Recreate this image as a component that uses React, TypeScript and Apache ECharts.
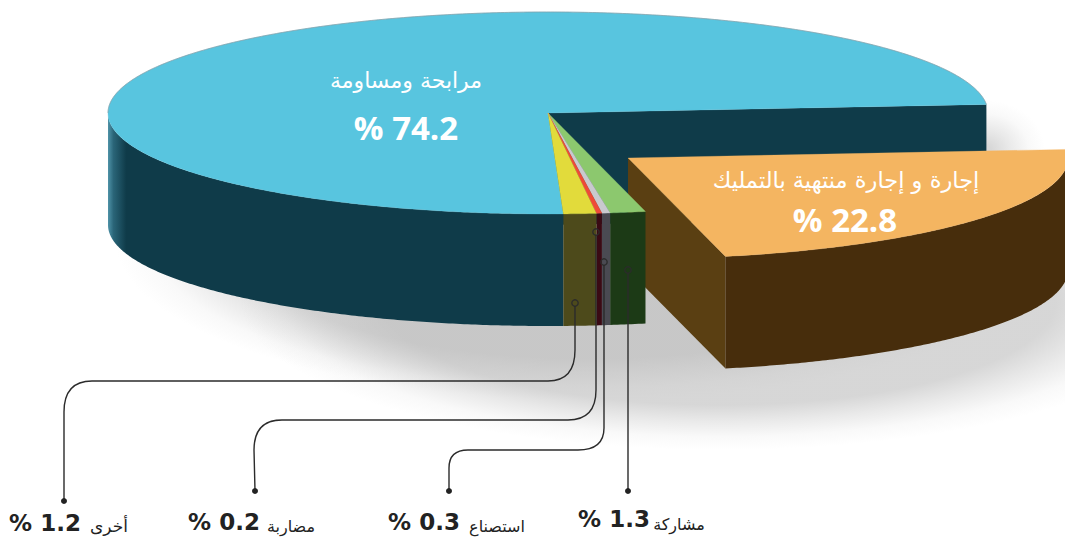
import React, { useEffect, useRef } from "react";
import * as echarts from "echarts";

const categories = ["مرابحة ومساومة", "إجارة و إجارة منتهية بالتمليك", "مشاركة", "استصناع", "مضاربة", "أخرى"];
const shareValues = [74.2, 22.8, 1.3, 0.3, 0.2, 1.2];
const topColors = ["#58c5df", "#f4b561", "#8cc86e", "#c9c9ce", "#ee4a38", "#e2db3b"];
const wallColors = ["#0f3b49", "#472d0c", "#1c3a16", "#4a4a52", "#3a0a14", "#4d4a1b"];
const cutColors = ["#0f3b49", "#5a3f12", "", "", "", ""];

const CX = 548, CY = 113, RX = 440, RY = 101, DEPTH = 112, START = 88;
const OFFSET: Record<number, [number, number]> = { 1: [80, 45] };
const rad = (d: number) => (d * Math.PI) / 180;

const angles = (() => {
  let a = START;
  return shareValues.map((v) => {
    const s = a;
    a += (v / 100) * 360;
    return [s, a];
  });
})();

function arc(cx: number, cy: number, a0: number, a1: number) {
  const n = Math.max(2, Math.ceil((a1 - a0) * 2));
  const pts: number[][] = [];
  for (let i = 0; i <= n; i++) {
    const t = rad(a0 + ((a1 - a0) * i) / n);
    pts.push([cx + RX * Math.cos(t), cy + RY * Math.sin(t)]);
  }
  return pts;
}

function renderSlice(params: any) {
  const i = params.dataIndex;
  const [a0, a1] = angles[i];
  const [dx, dy] = OFFSET[i] || [0, 0];
  const cx = CX + dx, cy = CY + dy;
  const children: any[] = [];
  if (cutColors[i]) {
    const t = rad(a1);
    const e = [cx + RX * Math.cos(t), cy + RY * Math.sin(t)];
    children.push({
      type: "polygon",
      shape: { points: [[cx, cy], e, [e[0], e[1] + DEPTH], [cx, cy + DEPTH]] },
      style: { fill: cutColors[i] },
    });
  }
  for (const base of [0, 360]) {
    const w0 = Math.max(a0, base), w1 = Math.min(a1, base + 180);
    if (w1 > w0) {
      const top = arc(cx, cy, w0, w1);
      const bottom = top.map(([x, y]) => [x, y + DEPTH]).reverse();
      const fill =
        i === 0
          ? new echarts.graphic.LinearGradient(0, 0, 1, 0, [
              { offset: 0, color: "#4f93a8" },
              { offset: 0.012, color: "#2a6578" },
              { offset: 0.04, color: wallColors[0] },
              { offset: 1, color: wallColors[0] },
            ])
          : wallColors[i];
      children.push({
        type: "polygon",
        shape: { points: top.concat(bottom) },
        style: { fill, lineWidth: 0 },
      });
    }
  }
  children.push({
    type: "polygon",
    shape: { points: [[cx, cy], ...arc(cx, cy, a0, a1)] },
    style: { fill: topColors[i], stroke: topColors[i], lineWidth: 0.3 },
  });
  if (i === 0) {
    children.push({
      type: "polyline",
      shape: { points: arc(cx, cy, 180, a1) },
      style: { fill: "none", stroke: "#8a9ca4", lineWidth: 0.7 },
    });
  }
  return { type: "group", children };
}

// Leader paths for the four small slices: ring centre, then routed down to the label dot.
const LEADERS = [
  { r: [628, 270], d: [628, 491], route: "M628 273 L628 491" },
  { r: [604, 262], d: [449, 491], route: "M604 265 L604 428 Q604 450 578 450 L468 450 Q449 450 449 468 L449 491" },
  { r: [596, 232], d: [255, 491], route: "M596 235 L596 390 Q596 420 568 420 L282 420 Q254 420 254 450 L255 491" },
  { r: [575, 303], d: [64, 501], route: "M575 306 L575 350 Q575 381 548 381 L92 381 Q64 381 64 412 L64 501" },
];

function renderLeader(params: any) {
  const l = LEADERS[params.dataIndex];
  return {
    type: "group",
    children: [
      { type: "path", shape: { pathData: l.route }, style: { fill: "none", stroke: "#2b2b2b", lineWidth: 1.4 } },
      { type: "circle", shape: { cx: l.r[0], cy: l.r[1], r: 3.2 }, style: { fill: "none", stroke: "#2b2b2b", lineWidth: 1.3 } },
      { type: "circle", shape: { cx: l.d[0], cy: l.d[1], r: 3 }, style: { fill: "#222" } },
    ],
  };
}

const ARABIC = '"DejaVu Sans", "Noto Sans", sans-serif';
const txt = (text: string, x: number, y: number, size: number, fill: string, weight: string, family: string, align = "center") => ({
  type: "text",
  z: 20,
  style: { text, x, y, fill, font: `${weight} ${size}px ${family}`, textAlign: align, textVerticalAlign: "middle" },
});
const pct = (i: number) => `% ${shareValues[i].toFixed(1)}`;
const NUM = '"Open Sans", sans-serif';
const NUM2 = '"DejaVu Sans", sans-serif';

const shade = (alpha: number, plateau: number) =>
  new echarts.graphic.RadialGradient(0.5, 0.5, 0.5, [
    { offset: 0, color: `rgba(190,190,190,${alpha})` },
    { offset: plateau, color: `rgba(190,190,190,${alpha})` },
    { offset: plateau + (1 - plateau) * 0.35, color: `rgba(190,190,190,${alpha * 0.55})` },
    { offset: plateau + (1 - plateau) * 0.7, color: `rgba(190,190,190,${alpha * 0.15})` },
    { offset: 1, color: "rgba(190,190,190,0)" },
  ]);

export default function App() {
  const ref = useRef<HTMLDivElement>(null);
  useEffect(() => {
    const chart = echarts.init(ref.current!, null, { renderer: "svg" });
    chart.setOption({
      animation: false,
      backgroundColor: "#ffffff",
      graphic: [
        { type: "ellipse", z: 0, shape: { cx: 590, cy: 240, rx: 475, ry: 160 }, style: { fill: shade(0.62, 0.74) } },
        { type: "ellipse", z: 0, shape: { cx: 720, cy: 300, rx: 480, ry: 150 }, style: { fill: shade(0.62, 0.7) } },
        { type: "ellipse", z: 0, shape: { cx: 985, cy: 150, rx: 60, ry: 50 }, style: { fill: shade(0.6, 0.1) } },
        txt(categories[0], 406, 80, 22, "#fff", "normal", ARABIC),
        txt(pct(0), 406, 127, 33, "#fff", "bold", NUM),
        txt(categories[1], 846, 180, 22.5, "#fff", "normal", ARABIC),
        txt(pct(1), 845, 219, 33, "#fff", "bold", NUM),
        txt(pct(5), 45, 523, 23, "#222", "bold", NUM2),
        txt(categories[5], 109, 526, 17, "#222", "normal", ARABIC),
        txt(pct(4), 224, 522, 23, "#222", "bold", NUM2),
        txt(categories[4], 291, 526, 16, "#222", "normal", ARABIC),
        txt(pct(3), 424, 522, 23, "#222", "bold", NUM2),
        txt(categories[3], 497, 526, 16, "#222", "normal", ARABIC),
        txt(pct(2), 614, 519, 23, "#222", "bold", NUM2),
        txt(categories[2], 679, 524, 16, "#222", "normal", ARABIC),
      ],
      series: [
        {
          type: "custom",
          coordinateSystem: "none",
          silent: true,
          z: 5,
          data: shareValues,
          renderItem: renderSlice,
        },
        {
          type: "custom",
          coordinateSystem: "none",
          silent: true,
          z: 10,
          data: shareValues.slice(2),
          renderItem: renderLeader,
        },
      ],
    });
    return () => chart.dispose();
  }, []);
  return <div ref={ref} style={{ position: "fixed", left: 0, top: 0, width: 1065, height: 541 }} />;
}
